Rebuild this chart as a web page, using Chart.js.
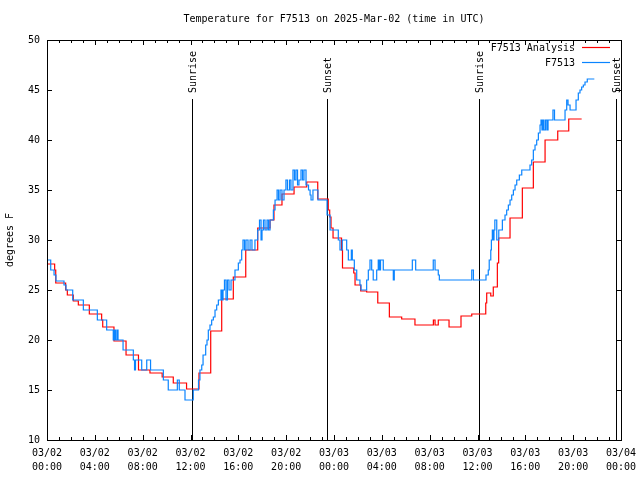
<!DOCTYPE html>
<html>
<head>
<meta charset="utf-8">
<script src="https://cdn.jsdelivr.net/npm/chart.js@4/dist/chart.umd.min.js"></script>
<style>
  body { margin: 0; background: #fff; }
  canvas { display: block; }
</style>
</head>
<body>
<canvas id="tempChart" width="640" height="480"></canvas>
<script>
// Hours since 03/02 00:00 UTC, and temperatures (degrees F)
const analysisHours = [0, 0.64, 0.73, 1.56, 1.70, 2.20, 2.62, 3.54, 4.57, 4.66, 5.60, 6.61, 7.65, 8.61, 9.63,
  10.56, 11.67, 12.71, 13.69, 14.61, 15.58, 16.62, 17.62, 18.65, 18.98, 19.65, 20.66, 21.72, 22.64, 23.52,
  23.64, 23.75, 23.92, 24.63, 24.71, 25.65, 25.76, 26.23, 26.73, 27.66, 28.63, 29.66, 30.77, 32.31, 32.45,
  32.72, 33.62, 34.62, 35.52, 36.69, 36.77, 37.11, 37.32, 37.66, 37.77, 38.72, 39.75, 40.67, 41.65, 42.71,
  43.63, 44.71];
const analysisTemps = [27.6, 27.0, 25.7, 25.0, 24.5, 23.9, 23.5, 22.6, 22.0, 21.3, 19.9, 18.5, 17.0, 16.7, 16.3,
  15.7, 15.1, 16.7, 20.9, 24.1, 26.3, 29.0, 31.2, 32.0, 33.5, 34.6, 35.3, 35.8, 34.1, 33.0,
  32.3, 31.2, 30.2, 29.0, 27.2, 26.7, 25.5, 24.9, 24.8, 23.7, 22.3, 22.1, 21.5, 22.0, 21.5,
  22.0, 21.3, 22.4, 22.6, 23.7, 24.7, 24.4, 25.3, 27.7, 30.2, 32.2, 35.2, 37.8, 40.0, 40.9,
  42.1, 42.1];

const obsHours = [0.00, 0.31, 0.59, 0.75, 1.42, 1.59, 2.15, 3.04, 4.21, 4.99, 5.54, 5.64, 5.73, 5.85, 5.94,
  6.36, 7.22, 7.32, 7.40, 7.92, 8.34, 8.66, 9.73, 10.14, 10.90, 11.06, 11.54, 12.23, 12.67, 12.79,
  12.94, 13.05, 13.27, 13.38, 13.49, 13.63, 13.77, 13.91, 14.05, 14.19, 14.33, 14.55, 14.64, 14.72, 14.84,
  14.97, 15.09, 15.22, 15.39, 15.72, 16.00, 16.14, 16.28, 16.39, 16.52, 16.64, 16.81, 16.98, 17.14, 17.39,
  17.62, 17.77, 17.90, 17.98, 18.10, 18.23, 18.40, 18.52, 18.65, 18.93, 19.07, 19.24, 19.36, 19.49, 19.65,
  19.82, 19.98, 20.11, 20.28, 20.40, 20.57, 20.70, 20.82, 20.95, 21.07, 21.24, 21.37, 21.49, 21.66, 21.87,
  22.00, 22.08, 22.24, 22.66, 23.42, 23.67, 24.36, 24.50, 24.69, 25.06, 25.20, 25.45, 25.53, 25.70, 25.90,
  26.17, 26.26, 26.73, 26.87, 27.01, 27.15, 27.28, 27.57, 27.70, 27.80, 27.89, 28.12, 28.96, 29.04, 30.55,
  30.83, 32.30, 32.45, 32.72, 32.81, 35.52, 35.66, 36.71, 36.90, 36.98, 37.11, 37.16, 37.24, 37.30, 37.38,
  37.45, 37.61, 37.78, 38.08, 38.30, 38.44, 38.58, 38.72, 38.86, 39.00, 39.14, 39.28, 39.50, 39.70, 40.39,
  40.53, 40.67, 40.81, 40.95, 41.09, 41.23, 41.31, 41.39, 41.48, 41.56, 41.69, 41.81, 41.90, 42.31, 42.44,
  43.32, 43.46, 43.57, 43.74, 44.24, 44.43, 44.57, 44.71, 44.85, 44.99, 45.18, 45.77];
const obsTemps = [28.0, 27.0, 26.5, 25.9, 25.5, 25.0, 24.0, 23.0, 22.0, 21.0, 20.0, 21.0, 20.0, 21.0, 20.0,
  19.0, 18.0, 17.0, 18.0, 17.0, 18.0, 17.0, 16.0, 15.0, 16.0, 15.0, 14.0, 15.0, 16.0, 17.0,
  17.5, 18.5, 19.5, 20.0, 21.0, 21.5, 22.0, 22.3, 23.0, 23.5, 24.0, 25.0, 24.0, 25.0, 26.0,
  24.0, 26.0, 25.0, 26.0, 27.0, 27.7, 28.0, 29.0, 30.0, 29.0, 30.0, 29.0, 30.0, 29.0, 30.0,
  31.0, 32.0, 30.0, 31.0, 32.0, 31.0, 32.0, 31.0, 32.0, 33.0, 34.0, 35.0, 34.0, 35.0, 34.0,
  35.0, 36.0, 35.0, 36.0, 35.0, 37.0, 36.0, 37.0, 35.5, 36.0, 37.0, 36.0, 37.0, 35.5, 35.0,
  34.5, 34.0, 35.0, 34.0, 32.5, 31.0, 30.0, 29.0, 30.0, 29.0, 28.0, 29.0, 28.0, 27.0, 26.0,
  25.5, 25.0, 26.0, 27.0, 28.0, 27.0, 26.0, 27.0, 28.0, 27.0, 28.0, 27.0, 26.0, 27.0, 28.0,
  27.0, 28.0, 27.0, 26.5, 26.0, 27.0, 26.0, 26.5, 27.0, 28.0, 29.0, 30.0, 31.0, 30.0, 31.0,
  32.0, 30.0, 31.0, 32.0, 32.5, 33.0, 33.5, 34.0, 34.5, 35.0, 35.5, 36.0, 36.5, 37.0, 37.5,
  38.0, 39.0, 39.5, 40.0, 40.7, 41.5, 42.0, 41.0, 42.0, 41.0, 42.0, 41.0, 42.0, 43.0, 42.0,
  43.0, 44.0, 43.5, 43.0, 44.0, 44.7, 45.0, 45.3, 45.5, 45.8, 46.1, 46.1];

// Sun events (hours since 03/02 00:00 UTC)
const sunHours = [12.15, 23.44, 36.15, 47.56];
const sunLabels = ['Sunrise', 'Sunset', 'Sunrise', 'Sunset'];

const dayLabels = ['03/02', '03/03', '03/04'];
const seriesNames = ['F7513 Analysis', 'F7513'];
const seriesColors = ['#ff0000', '#0a84ff'];

const FONT = '10px "DejaVu Sans Mono"';

function toPoints(xs, ys) {
  return xs.map((x, i) => ({ x: x, y: ys[i] }));
}

function tickLabel(v) {
  if (v % 4 !== 0) return '';
  const hh = String(v % 24).padStart(2, '0');
  return [dayLabels[Math.floor(v / 24)], hh + ':00'];
}

// gnuplot-like frame: border, inward ticks, sun lines, legend, title
const gnuplotFrame = {
  id: 'gnuplotFrame',
  beforeDatasetsDraw(chart) {
    const { ctx, chartArea, scales } = chart;
    ctx.save();
    ctx.strokeStyle = '#000';
    ctx.lineWidth = 1;
    ctx.fillStyle = '#000';
    ctx.font = FONT;
    sunHours.forEach((h, i) => {
      const x = Math.round(scales.x.getPixelForValue(h)) + 0.5;
      ctx.beginPath();
      ctx.moveTo(x, 99);
      ctx.lineTo(x, chartArea.bottom);
      ctx.stroke();
      ctx.save();
      ctx.translate(x + 1, 93);
      ctx.rotate(-Math.PI / 2);
      ctx.textAlign = 'left';
      ctx.textBaseline = 'middle';
      ctx.fillText(sunLabels[i], 0, 0);
      ctx.restore();
    });
    ctx.restore();
  },
  afterDraw(chart) {
    const { ctx, chartArea, scales } = chart;
    const { left, right, top, bottom } = chartArea;
    ctx.save();
    ctx.strokeStyle = '#000';
    ctx.fillStyle = '#000';
    ctx.lineWidth = 1;

    // border box
    ctx.strokeRect(Math.round(left) + 0.5, Math.round(top) + 0.5,
      Math.round(right - left), Math.round(bottom - top));

    // ticks
    ctx.beginPath();
    scales.x.ticks.forEach((t) => {
      const x = Math.round(scales.x.getPixelForValue(t.value)) + 0.5;
      const len = t.value % 4 === 0 ? 5 : 3;
      ctx.moveTo(x, bottom); ctx.lineTo(x, bottom - len);
      ctx.moveTo(x, top); ctx.lineTo(x, top + len);
    });
    scales.y.ticks.forEach((t) => {
      const y = Math.round(scales.y.getPixelForValue(t.value)) + 0.5;
      ctx.moveTo(left, y); ctx.lineTo(left + 5, y);
      ctx.moveTo(right, y); ctx.lineTo(right - 5, y);
    });
    ctx.stroke();

    ctx.font = FONT;
    // title
    ctx.textAlign = 'center';
    ctx.textBaseline = 'middle';
    ctx.fillText('Temperature for F7513 on 2025-Mar-02 (time in UTC)', (left + right) / 2, 19);

    // legend
    seriesNames.forEach((name, i) => {
      const y = 48 + i * 15;
      ctx.textAlign = 'right';
      ctx.fillStyle = '#000';
      ctx.fillText(name, 575, y);
      ctx.lineWidth = 1.2;
      ctx.strokeStyle = seriesColors[i];
      ctx.beginPath();
      ctx.moveTo(582, y - 0.5);
      ctx.lineTo(610, y - 0.5);
      ctx.stroke();
    });
    ctx.restore();
  }
};

new Chart(document.getElementById('tempChart'), {
  type: 'line',
  data: {
    datasets: [
      {
        label: seriesNames[0],
        data: toPoints(analysisHours, analysisTemps),
        borderColor: seriesColors[0],
        borderWidth: 1.2,
        stepped: true,
        pointRadius: 0,
        order: 1
      },
      {
        label: seriesNames[1],
        data: toPoints(obsHours, obsTemps),
        borderColor: seriesColors[1],
        borderWidth: 1.2,
        stepped: true,
        pointRadius: 0,
        order: 0
      }
    ]
  },
  options: {
    responsive: false,
    animation: false,
    layout: { padding: { top: 40, right: 19, left: 0, bottom: 0 } },
    plugins: {
      legend: { display: false },
      title: { display: false },
      tooltip: { enabled: false }
    },
    scales: {
      x: {
        type: 'linear',
        min: 0,
        max: 48,
        grid: { display: false, drawTicks: false },
        border: { display: false },
        ticks: {
          stepSize: 1,
          autoSkip: false,
          maxRotation: 0,
          padding: 6,
          color: '#000',
          font: { family: 'DejaVu Sans Mono', size: 10, lineHeight: 1.4 },
          callback: tickLabel
        },
        afterFit: (scale) => {
          scale.height = 40;
          scale.paddingLeft = 0;
          scale.paddingRight = 0;
        }
      },
      y: {
        min: 10,
        max: 50,
        grid: { display: false, drawTicks: false },
        border: { display: false },
        ticks: {
          stepSize: 5,
          padding: 7,
          color: '#000',
          font: { family: 'DejaVu Sans Mono', size: 10 }
        },
        title: {
          display: true,
          text: 'degrees F',
          color: '#000',
          padding: { top: 4, bottom: 0 },
          font: { family: 'DejaVu Sans Mono', size: 10 }
        },
        afterFit: (scale) => {
          scale.width = 47;
          scale.paddingTop = 0;
          scale.paddingBottom = 0;
        }
      }
    }
  },
  plugins: [gnuplotFrame]
});
</script>
</body>
</html>
